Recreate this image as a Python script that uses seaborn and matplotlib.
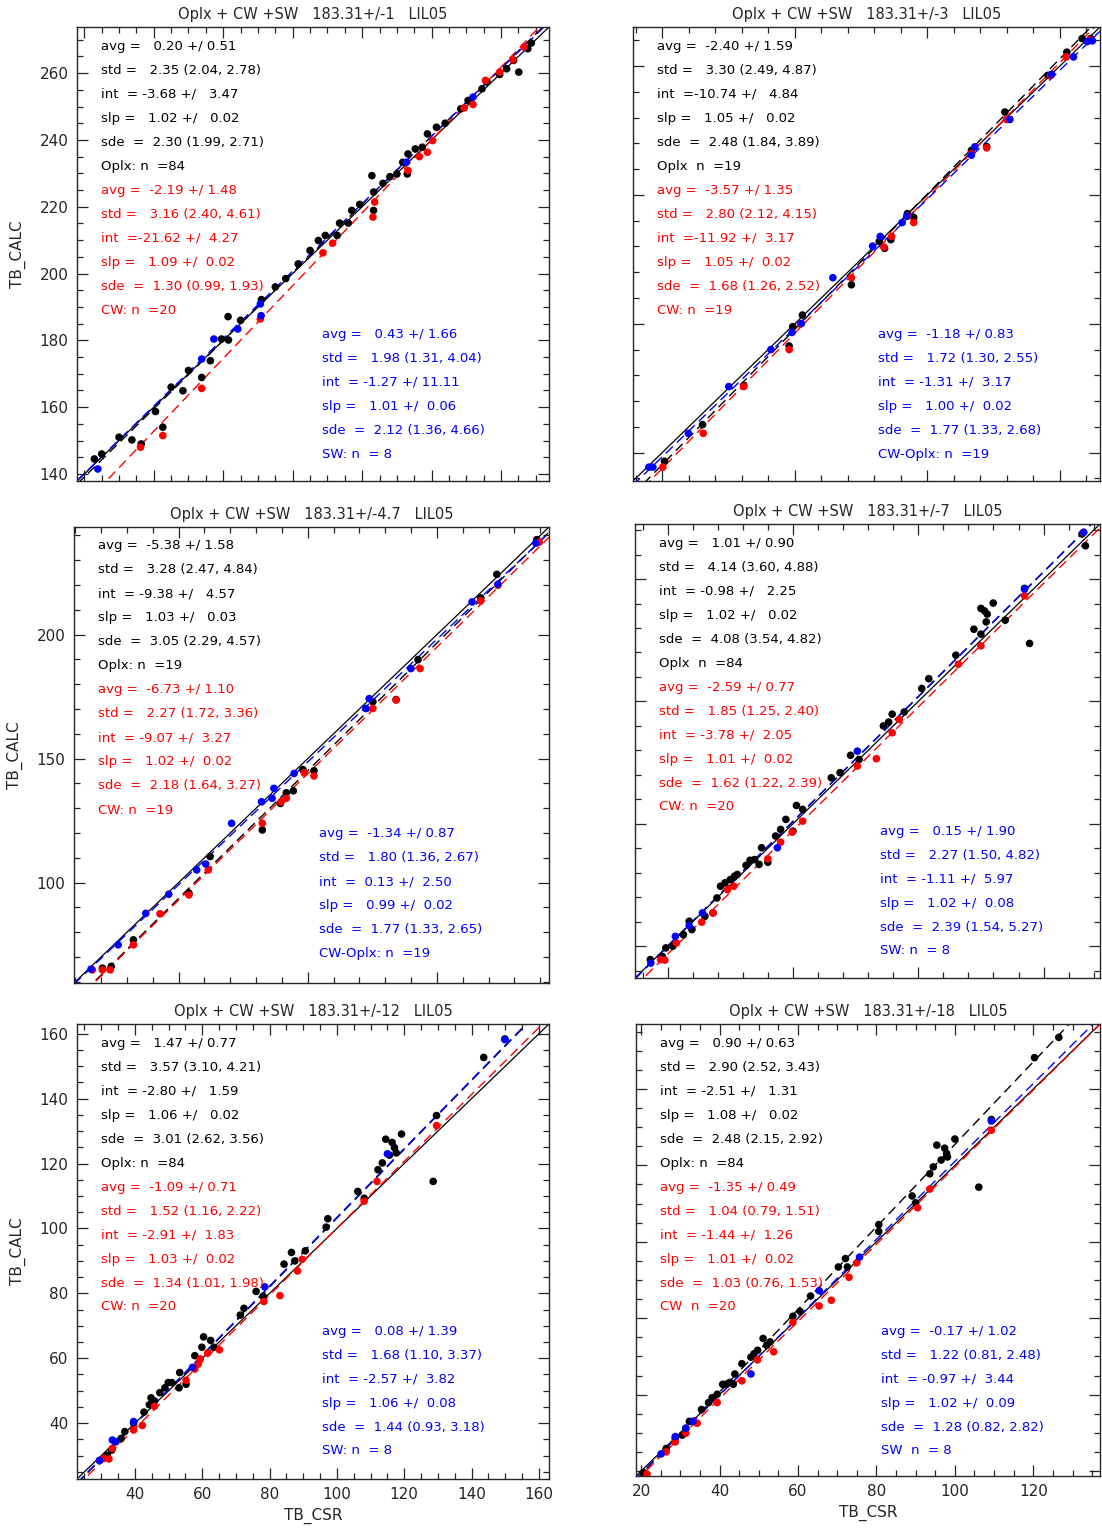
import matplotlib
matplotlib.use('Agg')
import matplotlib.pyplot as plt
import seaborn as sns
import pandas as pd
import numpy as np

# ---------------- data ----------------
titles = ['Oplx + CW +SW   183.31+/-1   LIL05', 'Oplx + CW +SW   183.31+/-3   LIL05',
          'Oplx + CW +SW   183.31+/-4.7   LIL05', 'Oplx + CW +SW   183.31+/-7   LIL05',
          'Oplx + CW +SW   183.31+/-12   LIL05', 'Oplx + CW +SW   183.31+/-18   LIL05']

# axis ranges (x range == y range in every panel)
p1_range = [137.9, 273.8]
p2_range = [131.2, 272.1]
p3_range = [59.5, 243.4]
p4_range = [37.0, 222.5]
p5_range = [22.8, 163.0]
p6_range = [18.7, 137.0]

# panel 1  (183.31 +/- 1)
p1_oplx_x = [142.9, 145.0, 150.0, 153.7, 156.4, 160.5, 162.6, 165.0, 168.4, 170.0, 173.8, 176.3, 179.5, 181.5,
             181.4, 185.0, 191.0, 195.0, 198.0, 201.6, 205.0, 207.4, 209.4, 212.8, 213.5, 216.0, 217.0, 219.3,
             222.8, 223.3, 223.3, 226.0, 228.0, 230.0, 231.7, 233.0, 233.2, 235.3, 237.3, 238.8, 241.4, 243.9,
             248.4, 250.5, 254.5, 256.0, 259.6, 261.6, 263.6, 265.1, 267.7, 268.7]
p1_oplx_y = [144.5, 146.0, 151.0, 150.2, 149.0, 158.7, 154.0, 166.0, 164.9, 171.0, 168.9, 173.9, 180.4, 180.1,
             187.1, 186.0, 192.2, 196.0, 198.5, 202.9, 206.9, 209.9, 211.4, 211.4, 215.1, 215.1, 218.9, 220.7,
             229.3, 224.4, 218.9, 227.0, 229.0, 229.8, 233.3, 229.8, 235.8, 237.3, 237.8, 241.8, 243.8, 245.0,
             249.3, 251.8, 255.3, 257.3, 259.6, 261.3, 263.8, 260.3, 267.3, 269.0]
p1_cw_x = [156.2, 162.6, 173.8, 190.7, 208.7, 211.5, 223.1, 223.6, 233.2, 236.5, 238.8, 240.3, 249.4, 251.9,
           255.5, 259.6, 263.4, 266.6]
p1_cw_y = [148.0, 151.5, 165.6, 186.4, 206.2, 209.1, 216.9, 221.4, 230.8, 235.0, 236.3, 239.8, 249.6, 250.6,
           257.8, 260.3, 264.0, 267.8]
p1_sw_x = [143.9, 173.8, 177.3, 184.2, 190.7, 190.9, 232.7, 251.9]
p1_sw_y = [141.5, 174.4, 180.4, 183.4, 190.9, 187.4, 233.3, 252.8]

# panel 2  (183.31 +/- 3)
p2_oplx_x = [140.7, 152.2, 164.6, 178.3, 179.4, 182.3, 197.1, 205.5, 207.1, 209.0, 214.0, 215.9, 233.3, 237.9,
             243.4, 256.4, 262.1, 266.7, 269.3]
p2_oplx_y = [137.3, 148.7, 160.8, 173.1, 179.1, 182.7, 192.1, 205.6, 203.4, 206.1, 214.2, 213.0, 233.8, 235.0,
             245.7, 257.1, 264.3, 268.5, 268.5]
p2_cw_x = [140.2, 152.4, 164.6, 178.3, 181.7, 197.1, 206.9, 209.2, 214.1, 215.9, 233.3, 237.9, 243.9, 257.2,
           261.9, 269.3]
p2_cw_y = [135.5, 146.0, 160.5, 172.0, 179.9, 194.3, 203.8, 207.1, 213.4, 211.4, 232.8, 234.6, 243.4, 257.1,
           262.8, 268.1]
p2_sw_x = [136.0, 137.2, 147.9, 160.1, 172.8, 179.2, 182.0, 191.5, 203.5, 205.8, 212.4, 213.8, 233.3, 234.3,
           244.9, 257.5, 264.1, 268.3, 269.8]
p2_sw_y = [135.5, 135.5, 146.0, 160.5, 172.0, 177.3, 180.1, 194.3, 204.1, 207.1, 211.4, 213.4, 232.3, 234.9,
           243.4, 257.4, 262.8, 267.6, 267.8]

# panel 3  (183.31 +/- 4.7)
p3_oplx_x = [70.5, 73.9, 82.5, 104.0, 112.2, 132.4, 139.4, 141.7, 144.4, 148.1, 152.4, 175.2, 184.2, 192.7,
             217.0, 223.2, 238.7]
p3_oplx_y = [65.5, 66.2, 76.9, 95.7, 110.5, 121.2, 131.9, 136.2, 137.0, 145.6, 145.1, 172.9, 173.8, 189.9,
             214.8, 224.3, 238.3]
p3_cw_x = [66.6, 70.5, 73.5, 82.5, 92.8, 104.0, 111.5, 132.4, 139.7, 141.7, 148.6, 152.4, 175.2, 184.2,
           193.5, 217.0, 223.6, 239.6]
p3_cw_y = [64.8, 64.8, 64.8, 74.9, 87.4, 95.0, 105.1, 123.9, 132.6, 134.0, 144.3, 143.0, 170.2, 173.6,
           186.3, 213.6, 219.9, 237.3]
p3_sw_x = [66.1, 76.6, 87.3, 96.2, 107.0, 110.5, 120.5, 132.1, 136.2, 136.9, 144.7, 172.5, 173.8, 189.9,
           213.6, 223.6, 238.3]
p3_sw_y = [65.1, 74.9, 87.6, 95.3, 105.1, 107.5, 123.9, 132.6, 134.0, 138.0, 144.0, 170.2, 174.2, 186.3,
           213.2, 220.3, 236.9]

# panel 4  (183.31 +/- 7)
p4_oplx_x = [43.1, 47.9, 49.3, 52.1, 56.3, 58.6, 59.7, 64.9, 68.1, 69.7, 71.1, 72.9, 75.0, 76.7, 77.8, 81.3,
             82.9, 84.7, 86.5, 87.5, 90.0, 93.1, 95.1, 97.2, 100.0, 101.4, 103.9, 115.3, 118.8, 123.0, 126.4,
             136.1, 138.2, 139.6, 144.4, 151.4, 154.2, 165.0, 172.2, 175.0, 175.0, 176.4, 177.5, 177.1, 179.9,
             184.7, 192.4, 194.4, 215.3, 216.7]
p4_oplx_y = [44.5, 45.8, 49.3, 50.0, 54.7, 60.2, 56.8, 62.2, 63.6, 69.7, 74.5, 75.9, 77.2, 78.6, 79.3, 83.0,
             85.1, 85.4, 83.4, 90.2, 84.3, 95.0, 97.7, 101.8, 97.0, 107.5, 105.9, 118.8, 120.9, 128.0, 126.3,
             140.0, 141.6, 144.8, 145.7, 155.3, 159.3, 168.9, 179.5, 177.5, 188.0, 187.0, 185.7, 182.5, 190.2,
             183.2, 196.2, 173.7, 218.4, 213.6]
p4_cw_x = [47.2, 48.9, 53.5, 63.6, 68.1, 73.9, 76.4, 90.0, 95.1, 99.7, 103.9, 125.7, 133.3, 139.6, 142.4,
           166.0, 175.0, 192.4, 215.9]
p4_cw_y = [44.5, 44.3, 51.3, 59.8, 63.6, 73.1, 74.5, 85.7, 92.5, 96.6, 101.1, 123.6, 126.6, 137.2, 142.6,
           165.2, 172.7, 193.2, 219.1]
p4_sw_x = [43.3, 53.1, 58.6, 63.9, 93.8, 125.7, 192.4, 216.0]
p4_sw_y = [43.1, 54.0, 58.4, 63.6, 90.2, 129.7, 195.9, 219.1]

# panel 5  (183.31 +/- 12)
p5_oplx_x = [29.5, 31.8, 33.1, 35.9, 37.0, 39.6, 42.7, 44.3, 44.8, 45.8, 47.4, 48.9, 49.9, 51.0, 53.3, 53.1,
             55.2, 57.8, 59.9, 60.4, 62.5, 63.5, 71.3, 72.4, 76.0, 78.1, 84.3, 86.5, 87.5, 90.6, 96.8, 97.3,
             106.2, 108.1, 112.2, 113.5, 114.5, 115.6, 116.4, 117.1, 117.6, 119.2, 128.6, 129.6, 143.6, 149.9]
p5_oplx_y = [28.5, 30.1, 31.7, 35.3, 37.4, 40.0, 43.4, 45.7, 47.8, 46.8, 49.4, 50.9, 52.5, 52.5, 55.6, 50.9,
             52.0, 60.8, 63.4, 66.6, 65.5, 63.4, 73.3, 75.4, 80.6, 79.1, 89.0, 92.6, 90.0, 93.1, 100.4, 103.0,
             111.4, 109.3, 118.1, 120.2, 127.5, 122.6, 126.5, 124.9, 123.3, 129.1, 114.5, 134.8, 152.7, 158.4]
p5_cw_x = [30.7, 32.3, 33.3, 39.6, 42.2, 45.8, 55.2, 57.8, 58.8, 59.4, 61.6, 65.1, 78.3, 83.1, 88.3, 89.7,
           108.1, 111.9, 129.6]
p5_cw_y = [29.1, 29.0, 32.2, 37.9, 39.3, 45.2, 53.2, 56.7, 58.2, 59.8, 61.6, 62.6, 77.5, 79.3, 86.9, 90.5,
           108.4, 114.5, 131.7]
p5_sw_x = [29.5, 33.3, 34.4, 39.6, 57.1, 78.6, 115.0, 149.9]
p5_sw_y = [28.5, 34.8, 34.3, 40.5, 57.2, 82.0, 123.0, 158.2]

# panel 6  (183.31 +/- 18)
p6_oplx_x = [20.6, 26.4, 28.7, 30.5, 31.4, 32.3, 35.4, 37.2, 38.1, 39.4, 40.8, 41.7, 42.6, 43.5, 43.9, 45.7,
             48.0, 48.8, 49.7, 51.1, 52.0, 52.9, 58.7, 60.5, 63.2, 70.3, 72.1, 72.6, 80.6, 80.6, 89.1, 90.0,
             93.6, 94.5, 95.4, 96.5, 97.4, 97.9, 98.1, 100.0, 106.1, 109.3, 120.3, 126.5]
p6_oplx_y = [19.6, 25.9, 28.5, 29.4, 31.2, 33.0, 36.1, 37.9, 39.2, 40.1, 42.7, 42.7, 43.2, 42.7, 45.4, 48.1,
             49.8, 50.7, 51.6, 54.7, 52.9, 53.8, 60.5, 61.8, 65.8, 73.4, 75.6, 73.4, 84.5, 82.7, 92.0, 90.2,
             97.8, 99.6, 105.3, 101.4, 104.5, 103.1, 102.2, 106.9, 94.3, 112.0, 128.2, 133.5]
p6_cw_x = [21.5, 26.4, 28.7, 31.4, 33.4, 34.3, 39.4, 45.7, 49.7, 53.8, 58.7, 65.4, 68.5, 73.0, 75.0, 90.5,
           93.6, 109.3]
p6_cw_y = [19.2, 25.0, 27.6, 29.9, 33.0, 32.5, 37.9, 43.6, 49.1, 51.2, 58.9, 63.2, 64.7, 70.7, 74.5, 88.9,
           93.8, 109.2]
p6_sw_x = [25.1, 28.7, 31.4, 33.2, 48.0, 65.4, 75.7, 109.3]
p6_sw_y = [24.5, 29.0, 31.2, 33.0, 45.4, 67.2, 76.0, 111.6]

# regression fits (intercept, slope) per group: Oplx, CW, SW / CW-Oplx
p1_fits = [(-3.68, 1.02), (-21.62, 1.09), (-1.27, 1.01)]
p2_fits = [(-10.74, 1.05), (-11.92, 1.05), (-1.31, 1.00)]
p3_fits = [(-9.38, 1.03), (-9.07, 1.02), (0.13, 0.99)]
p4_fits = [(-0.98, 1.02), (-3.78, 1.01), (-1.11, 1.02)]
p5_fits = [(-2.80, 1.06), (-2.91, 1.03), (-2.57, 1.06)]
p6_fits = [(-2.51, 1.08), (-1.44, 1.01), (-0.97, 1.02)]

# statistics text blocks
p1_stats = [
    ['avg =   0.20 +/ 0.51', 'std =   2.35 (2.04, 2.78)', 'int  = -3.68 +/   3.47',
     'slp =   1.02 +/   0.02', 'sde  =  2.30 (1.99, 2.71)', 'Oplx: n  =84'],
    ['avg =  -2.19 +/ 1.48', 'std =   3.16 (2.40, 4.61)', 'int  =-21.62 +/  4.27',
     'slp =   1.09 +/  0.02', 'sde  =  1.30 (0.99, 1.93)', 'CW: n  =20'],
    ['avg =   0.43 +/ 1.66', 'std =   1.98 (1.31, 4.04)', 'int  = -1.27 +/ 11.11',
     'slp =   1.01 +/  0.06', 'sde  =  2.12 (1.36, 4.66)', 'SW: n  = 8']]
p2_stats = [
    ['avg =  -2.40 +/ 1.59', 'std =   3.30 (2.49, 4.87)', 'int  =-10.74 +/   4.84',
     'slp =   1.05 +/   0.02', 'sde  =  2.48 (1.84, 3.89)', 'Oplx  n  =19'],
    ['avg =  -3.57 +/ 1.35', 'std =   2.80 (2.12, 4.15)', 'int  =-11.92 +/  3.17',
     'slp =   1.05 +/  0.02', 'sde  =  1.68 (1.26, 2.52)', 'CW: n  =19'],
    ['avg =  -1.18 +/ 0.83', 'std =   1.72 (1.30, 2.55)', 'int  = -1.31 +/  3.17',
     'slp =   1.00 +/  0.02', 'sde  =  1.77 (1.33, 2.68)', 'CW-Oplx: n  =19']]
p3_stats = [
    ['avg =  -5.38 +/ 1.58', 'std =   3.28 (2.47, 4.84)', 'int  = -9.38 +/   4.57',
     'slp =   1.03 +/   0.03', 'sde  =  3.05 (2.29, 4.57)', 'Oplx: n  =19'],
    ['avg =  -6.73 +/ 1.10', 'std =   2.27 (1.72, 3.36)', 'int  = -9.07 +/  3.27',
     'slp =   1.02 +/  0.02', 'sde  =  2.18 (1.64, 3.27)', 'CW: n  =19'],
    ['avg =  -1.34 +/ 0.87', 'std =   1.80 (1.36, 2.67)', 'int  =  0.13 +/  2.50',
     'slp =   0.99 +/  0.02', 'sde  =  1.77 (1.33, 2.65)', 'CW-Oplx: n  =19']]
p4_stats = [
    ['avg =   1.01 +/ 0.90', 'std =   4.14 (3.60, 4.88)', 'int  = -0.98 +/   2.25',
     'slp =   1.02 +/   0.02', 'sde  =  4.08 (3.54, 4.82)', 'Oplx  n  =84'],
    ['avg =  -2.59 +/ 0.77', 'std =   1.85 (1.25, 2.40)', 'int  = -3.78 +/  2.05',
     'slp =   1.01 +/  0.02', 'sde  =  1.62 (1.22, 2.39)', 'CW: n  =20'],
    ['avg =   0.15 +/ 1.90', 'std =   2.27 (1.50, 4.82)', 'int  = -1.11 +/  5.97',
     'slp =   1.02 +/  0.08', 'sde  =  2.39 (1.54, 5.27)', 'SW: n  = 8']]
p5_stats = [
    ['avg =   1.47 +/ 0.77', 'std =   3.57 (3.10, 4.21)', 'int  = -2.80 +/   1.59',
     'slp =   1.06 +/   0.02', 'sde  =  3.01 (2.62, 3.56)', 'Oplx: n  =84'],
    ['avg =  -1.09 +/ 0.71', 'std =   1.52 (1.16, 2.22)', 'int  = -2.91 +/  1.83',
     'slp =   1.03 +/  0.02', 'sde  =  1.34 (1.01, 1.98)', 'CW: n  =20'],
    ['avg =   0.08 +/ 1.39', 'std =   1.68 (1.10, 3.37)', 'int  = -2.57 +/  3.82',
     'slp =   1.06 +/  0.08', 'sde  =  1.44 (0.93, 3.18)', 'SW: n  = 8']]
p6_stats = [
    ['avg =   0.90 +/ 0.63', 'std =   2.90 (2.52, 3.43)', 'int  = -2.51 +/   1.31',
     'slp =   1.08 +/   0.02', 'sde  =  2.48 (2.15, 2.92)', 'Oplx: n  =84'],
    ['avg =  -1.35 +/ 0.49', 'std =   1.04 (0.79, 1.51)', 'int  = -1.44 +/  1.26',
     'slp =   1.01 +/  0.02', 'sde  =  1.03 (0.76, 1.53)', 'CW  n  =20'],
    ['avg =  -0.17 +/ 1.02', 'std =   1.22 (0.81, 2.48)', 'int  = -0.97 +/  3.44',
     'slp =   1.02 +/  0.09', 'sde  =  1.28 (0.82, 2.82)', 'SW  n  = 8']]

group_colors = {'Oplx': 'black', 'CW': 'red', 'SW': 'blue'}

# ---------------- figure ----------------
sns.set_style('ticks')
plt.rcParams['font.family'] = ['DejaVu Sans']

W, H = 1102, 1531
fig = plt.figure(figsize=(W / 100, H / 100), dpi=100)


def add_box(left, top, right, bottom):
    return fig.add_axes([left / W, 1 - bottom / H, (right - left) / W, (bottom - top) / H])


def tick_list(lo, hi, anchor, step):
    first = anchor - np.floor((anchor - lo) / step) * step
    return np.arange(first, hi + 1e-6, step)


def draw_panel(ax, title, rng, xs, ys, fits, stats, major, minor, xlabels, ylabels):
    groups = ['Oplx', 'CW', 'SW']
    df = pd.concat([pd.DataFrame({'x': x, 'y': y, 'grp': g}) for x, y, g in zip(xs, ys, groups)],
                   ignore_index=True)

    lo, hi = rng
    # 1:1 line
    ax.plot([lo, hi], [lo, hi], color='black', lw=0.9)
    # fitted lines
    for (a, b), g in zip(fits, groups):
        ax.plot([lo, hi], [a + b * lo, a + b * hi], color=group_colors[g], lw=1.0,
                linestyle=(0, (7, 4)))

    sns.scatterplot(data=df, x='x', y='y', hue='grp', palette=group_colors, s=30,
                    edgecolor='none', legend=False, ax=ax, zorder=3)

    ax.set_xlim(lo, hi)
    ax.set_ylim(lo, hi)
    ax.set_title(title, fontsize=10.5, pad=6)
    ax.set_xlabel('TB_CSR' if xlabels else '', fontsize=11, labelpad=4)
    ax.set_ylabel('TB_CALC' if ylabels else '', fontsize=11, labelpad=10)

    majors = tick_list(lo, hi, major[0], major[1])
    minors = tick_list(lo, hi, major[0], minor)
    for axis in (ax.xaxis, ax.yaxis):
        axis.set_ticks(majors)
        axis.set_ticks(minors, minor=True)
    ax.set_xticklabels([f'{v:g}' for v in majors] if xlabels else [])
    ax.set_yticklabels([f'{v:g}' for v in majors] if ylabels else [])
    ax.tick_params(which='both', direction='in', top=True, right=True, width=0.9, labelsize=11)
    ax.tick_params(which='major', length=8, pad=6)
    ax.tick_params(which='minor', length=4)
    for sp in ax.spines.values():
        sp.set_linewidth(1.0)
        sp.set_visible(True)

    # statistics text
    for i, line in enumerate(stats[0] + stats[1]):
        ax.annotate(line, xy=(0, 1), xycoords='axes fraction', xytext=(24, -(19 + 24 * i)),
                    textcoords='offset pixels', ha='left', va='center', fontsize=9.5,
                    color='black' if i < 6 else 'red')
    for i, line in enumerate(stats[2]):
        ax.annotate(line, xy=(0, 1), xycoords='axes fraction', xytext=(245, -(307 + 24 * i)),
                    textcoords='offset pixels', ha='left', va='center', fontsize=9.5, color='blue')


ax1 = add_box(77, 27, 549, 481)
draw_panel(ax1, titles[0], p1_range, [p1_oplx_x, p1_cw_x, p1_sw_x], [p1_oplx_y, p1_cw_y, p1_sw_y],
           p1_fits, p1_stats, (140, 20), 5, False, True)
ax2 = add_box(633, 27, 1100, 481)
draw_panel(ax2, titles[1], p2_range, [p2_oplx_x, p2_cw_x, p2_sw_x], [p2_oplx_y, p2_cw_y, p2_sw_y],
           p2_fits, p2_stats, (140, 40), 8, False, False)
ax3 = add_box(74, 527, 549, 983)
draw_panel(ax3, titles[2], p3_range, [p3_oplx_x, p3_cw_x, p3_sw_x], [p3_oplx_y, p3_cw_y, p3_sw_y],
           p3_fits, p3_stats, (100, 50), 10, False, True)
ax4 = add_box(635, 524, 1100, 978)
draw_panel(ax4, titles[3], p4_range, [p4_oplx_x, p4_cw_x, p4_sw_x], [p4_oplx_y, p4_cw_y, p4_sw_y],
           p4_fits, p4_stats, (50, 50), 10, False, False)
ax5 = add_box(77, 1024, 549, 1479)
draw_panel(ax5, titles[4], p5_range, [p5_oplx_x, p5_cw_x, p5_sw_x], [p5_oplx_y, p5_cw_y, p5_sw_y],
           p5_fits, p5_stats, (40, 20), 5, True, True)
ax6 = add_box(636, 1024, 1100, 1476)
draw_panel(ax6, titles[5], p6_range, [p6_oplx_x, p6_cw_x, p6_sw_x], [p6_oplx_y, p6_cw_y, p6_sw_y],
           p6_fits, p6_stats, (20, 20), 5, True, False)

fig.savefig('out.png', dpi=100)
